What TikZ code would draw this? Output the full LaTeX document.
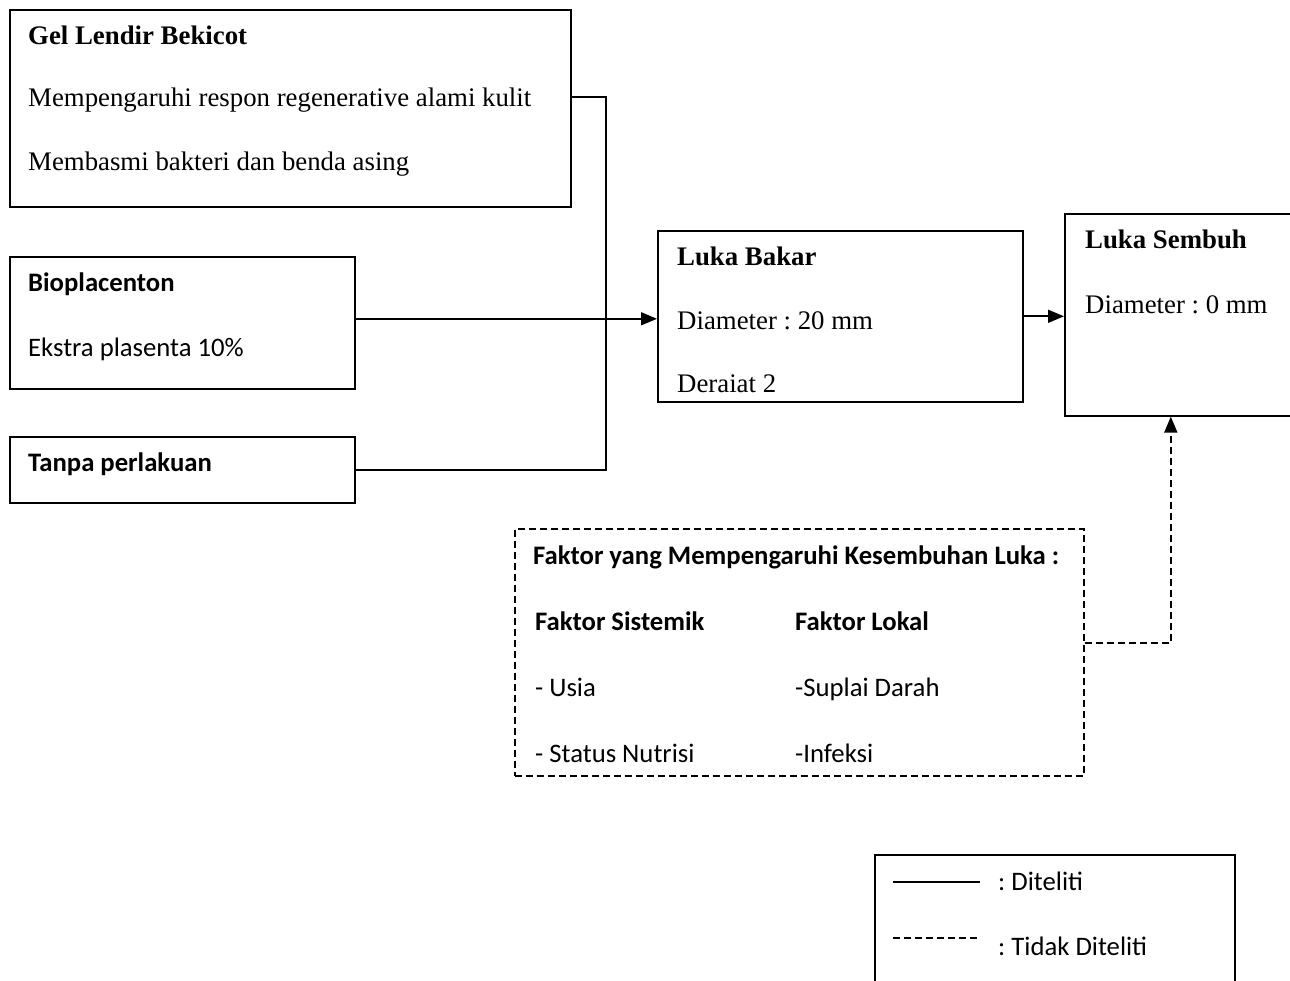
\documentclass[tikz,border=0pt]{standalone}
\usepackage{fontspec}
\setmainfont{Liberation Serif}
\newfontfamily\calfont{Carlito}
\usetikzlibrary{arrows.meta}
\frenchspacing
\begin{document}
\begin{tikzpicture}[x=1pt,y=-1pt,
 box/.style={draw,line width=1.6pt,anchor=north west,inner sep=0pt},
 dbox/.style={box,dash pattern=on 7pt off 4pt},
 ser/.style={anchor=base west,inner sep=0pt,font=\fontsize{26.8}{30}\selectfont},
 serb/.style={anchor=base west,inner sep=0pt,font=\fontsize{26.8}{30}\selectfont\bfseries},
 sans/.style={anchor=base west,inner sep=0pt,font=\calfont\fontsize{26.7}{30}\selectfont},
 sansb/.style={anchor=base west,inner sep=0pt,font=\calfont\fontsize{26.7}{30}\selectfont\bfseries},
 conn/.style={line width=1.6pt},
 dconn/.style={line width=1.6pt,dash pattern=on 7pt off 4pt},
 tip/.style={-{Triangle[length=16pt,width=13pt]}},
]
\useasboundingbox (0,0) rectangle (1290,981);
\clip (0,0) rectangle (1290,981);

% boxes
\node[box,minimum width=561pt,minimum height=197pt] (gel) at (9,9) {};
\node[box,minimum width=345pt,minimum height=132pt] (bio) at (9,256) {};
\node[box,minimum width=345pt,minimum height=66pt] (tanpa) at (9,436) {};
\node[box,minimum width=365pt,minimum height=171pt] (bakar) at (657,230) {};
\node[box,minimum width=235pt,minimum height=202pt] (sembuh) at (1064,213) {};
\node[dbox,minimum width=569pt,minimum height=247pt] (faktor) at (514,528) {};
\node[box,minimum width=360pt,minimum height=150pt] (legend) at (874,854) {};

% texts
\node[serb] (t1) at (28,45) {Gel Lendir Bekicot};
\node[ser] (t2) at (28,107) {Mempengaruhi respon regenerative alami kulit};
\node[ser] (t3) at (28,171) {Membasmi bakteri dan benda asing};
\node[sansb] (t4) at (28,292) {Bioplacenton};
\node[sans] (t5) at (28,357) {Ekstra plasenta 10\%};
\node[sansb] (t6) at (28,471) {Tanpa perlakuan};
\node[serb] (t7) at (677,266) {Luka Bakar};
\node[ser] (t8) at (677,330) {Diameter : 20 mm};
\node[ser] (t9) at (677,392) {Deraiat 2};
\node[serb] (t10) at (1085,249) {Luka Sembuh};
\node[ser] (t11) at (1085,314) {Diameter : 0 mm};
\node[sansb] (t12) at (533,564) {Faktor yang Mempengaruhi Kesembuhan Luka :};
\node[sansb] (t13) at (535,630) {Faktor Sistemik};
\node[sansb] (t14) at (795,630) {Faktor Lokal};
\node[sans] (t15) at (535,696) {- Usia};
\node[sans] (t16) at (795,696) {-Suplai Darah};
\node[sans] (t17) at (535,762) {- Status Nutrisi};
\node[sans] (t18) at (795,762) {-Infeksi};
\node[sans] (t19) at (998,890) {: Diteliti};
\node[sans] (t20) at (998,955) {: Tidak Diteliti};

% connectors
\coordinate (jn) at (606,0);
\draw[conn] ([yshift=11.5pt]gel.east) -| (jn |- tanpa.east) -- (tanpa.east);
\draw[conn,tip] ([yshift=4pt]bio.east) -- ([yshift=4pt]bio.east -| bakar.west);
\draw[conn,tip] (bakar.east) -- (bakar.east -| sembuh.west);
\draw[dconn,tip] ([yshift=9.5pt]faktor.east) -| ([xshift=-11.5pt]sembuh.south);

% legend samples
\coordinate (l1a) at (893,882);
\coordinate (l1b) at (980,882);
\coordinate (l2a) at (893,938);
\coordinate (l2b) at (978,938);
\draw[conn] (l1a) -- (l1b);
\draw[dconn] (l2a) -- (l2b);
\end{tikzpicture}
\end{document}
